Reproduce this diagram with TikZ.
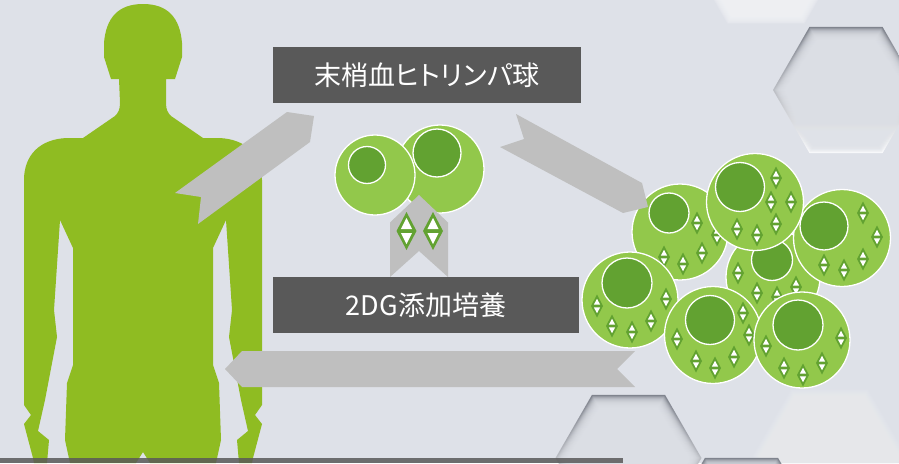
\documentclass[tikz,border=0pt]{standalone}
\usepackage{fontspec}
\newfontfamily\jpfont[RawFeature=+palt]{Noto Sans CJK JP}
\usetikzlibrary{calc}

\definecolor{bg}{HTML}{DEE1E8}
\definecolor{bodygreen}{HTML}{8FBC22}
\definecolor{arrowgrey}{HTML}{BFBFBF}
\definecolor{labelgrey}{HTML}{595959}
\definecolor{cellgreen}{HTML}{92C84B}
\definecolor{nucgreen}{HTML}{62A231}
\definecolor{hexdark}{HTML}{80848E}
\definecolor{hexlight}{HTML}{F8F9FB}
\definecolor{hexface}{HTML}{DFE2E8}
\definecolor{hexraised}{HTML}{F2F3F6}

% flat-topped hexagon: centre x, centre y, circumradius
\newcommand{\hexpoly}[3]{({#1+(#3)},{#2}) -- ({#1+(#3)/2},{#2+0.866*(#3)}) -- ({#1-(#3)/2},{#2+0.866*(#3)}) -- ({#1-(#3)},{#2}) -- ({#1-(#3)/2},{#2-0.866*(#3)}) -- ({#1+(#3)/2},{#2-0.866*(#3)}) -- cycle}

% sunken hexagon tile with soft bevel
\newcommand{\sunkenhex}[3]{%
  \shade[top color=hexdark, bottom color=hexlight] \hexpoly{#1}{#2}{#3};
  \foreach \k in {0,...,15}{\fill[hexface, fill opacity=0.2] \hexpoly{#1}{#2}{#3-1.5-\k*0.9};}}
% raised, lighter hexagon tile
\newcommand{\raisedhex}[5]{%
  \foreach \k in {0,...,9}{\fill[#4, fill opacity=#5] \hexpoly{#1}{#2}{#3+4-\k*1.0};}}

% one cell: body centre/radius, nucleus centre/radius
\newcommand{\cellat}[6]{%
  \fill[cellgreen, draw=white, line width=1.3pt] (#1,#2) circle[radius=#3pt];
  \fill[nucgreen, draw=white, line width=1.3pt] (#4,#5) circle[radius=#6pt];}

\tikzset{
  labelbox/.style={fill=labelgrey, text=white, inner sep=0pt,
    font=\jpfont\fontsize{27}{30}\selectfont},
  chevron/.style={fill=arrowgrey},
  dia/.pic={
    \fill[nucgreen] (0,-19) -- (10,0) -- (0,19) -- (-10,0) -- cycle;
    \fill[white] (0,-13) -- (5.6,-2) -- (-5.6,-2) -- cycle;
    \fill[white] (0,13) -- (5.6,2) -- (-5.6,2) -- cycle;
  },
  sdia/.pic={
    \fill[nucgreen] (0,-11.5) -- (6,0) -- (0,11.5) -- (-6,0) -- cycle;
    \fill[white] (0,-7.2) -- (3.2,-1.3) -- (-3.2,-1.3) -- cycle;
    \fill[white] (0,7.2) -- (3.2,1.3) -- (-3.2,1.3) -- cycle;
  }
}

\begin{document}
\begin{tikzpicture}[x=1pt, y=-1pt]
\useasboundingbox (0,0) rectangle (899,463);
\clip (0,0) rectangle (899,463);

% backdrop
\fill[bg] (0,0) rectangle (899,463);
\raisedhex{766}{-43}{73}{hexraised}{0.22}
\raisedhex{829.5}{456}{73}{hexraised}{0.08}
\sunkenhex{846}{90}{73}
\sunkenhex{628.5}{458}{73}
\sunkenhex{741.5}{521}{73}

% human silhouette
\fill[bodygreen] (111,79) -- (104,57) -- (104,43)
  .. controls (106,18) and (118,4) .. (143,4)
  .. controls (168,4) and (180,18) .. (182,43) -- (182,57) -- (175,79)
  -- (166,79) -- (166,103) .. controls (166,110) and (168,113) .. (171,116)
  -- (203,138) -- (219,138) .. controls (246,139) and (262,155) .. (262,180)
  -- (262,405) -- (255,415) -- (262,424) -- (253,458) -- (252,463)
  -- (239,463) -- (237,440) -- (248,431) -- (241,400) -- (229,337)
  -- (232,310) -- (226,220) -- (213,248) -- (213,365) -- (219,383)
  -- (221,440) -- (216,463) -- (150,463) -- (143,452) -- (136,463)
  -- (70,463) -- (65,440) -- (67,383) -- (73,365) -- (73,248) -- (60,220)
  -- (54,310) -- (57,337) -- (45,400) -- (38,431) -- (49,440) -- (47,463)
  -- (34,463) -- (33,458) -- (24,424) -- (31,415) -- (24,405) -- (24,180)
  .. controls (24,155) and (40,139) .. (67,138) -- (83,138) -- (115,116)
  .. controls (118,113) and (120,110) .. (120,103) -- (119,79) -- cycle;

% isolated lymphocytes
\cellat{440}{169}{44}{437}{153}{24}
\cellat{375}{175}{40}{367}{165}{18.5}

% expanded lymphocyte cluster
\cellat{773}{277}{47}{772}{260}{20.5}
\pic at (738,273) {sdia};
\pic at (757,293) {sdia};
\pic at (777,297) {sdia};
\pic at (796,287) {sdia};

\cellat{680}{232}{48}{669}{213}{20}
\pic at (697,223) {sdia};
\pic at (717,235) {sdia};
\pic at (664,257) {sdia};
\pic at (683,264) {sdia};
\pic at (702,253) {sdia};

\cellat{842}{238}{48.5}{824}{226}{24}
\pic at (863,213) {sdia};
\pic at (877,237) {sdia};
\pic at (863,259) {sdia};
\pic at (824,265) {sdia};
\pic at (844,270) {sdia};

\cellat{755}{202}{48.5}{740}{187}{24.5}
\pic at (776,178) {sdia};
\pic at (771,202) {sdia};
\pic at (791,202) {sdia};
\pic at (776,224) {sdia};
\pic at (737,229) {sdia};
\pic at (757,235) {sdia};

\cellat{630}{300}{48}{627}{283}{25}
\pic at (597,306) {sdia};
\pic at (666,299) {sdia};
\pic at (612,326) {sdia};
\pic at (632,332) {sdia};
\pic at (651,321) {sdia};

\cellat{713}{335}{48.5}{710}{320}{24.5}
\pic at (743,313) {sdia};
\pic at (749,335) {sdia};
\pic at (677,339) {sdia};
\pic at (696,361) {sdia};
\pic at (715,368) {sdia};
\pic at (734,357) {sdia};

\cellat{802}{340}{48}{798}{325}{25}
\pic at (766,346) {sdia};
\pic at (841,338) {sdia};
\pic at (784,368) {sdia};
\pic at (803,375) {sdia};
\pic at (822,363) {sdia};

% process chevrons
\fill[chevron] (175,193) -- (287,112) -- (314,116) -- (310,142) -- (198,224) -- (201,197) -- cycle;
\fill[chevron] (516,114) -- (642,183) -- (648,207) -- (623,213) -- (500,147) -- (524,139) -- cycle;
\fill[chevron] (390,222.5) -- (419,195) -- (448,222.5) -- (448,277) -- (419,251) -- (390,277) -- cycle;
\fill[chevron] (225,369) -- (242,351) -- (635,351) -- (617,369) -- (635,387) -- (242,387) -- cycle;
\pic at (406.5,231) {dia};
\pic at (433,231) {dia};

% step labels
\node[labelbox, minimum width=308pt, minimum height=56pt] (lab1) at (427,75) {末梢血ヒトリンパ球};
\node[labelbox, minimum width=306pt, minimum height=56pt] (lab2) at (426,305) {2DG添加培養};

% footer bar
\fill[labelgrey, fill opacity=0.85] (0,457.5) rectangle (623,463);
\end{tikzpicture}
\end{document}
